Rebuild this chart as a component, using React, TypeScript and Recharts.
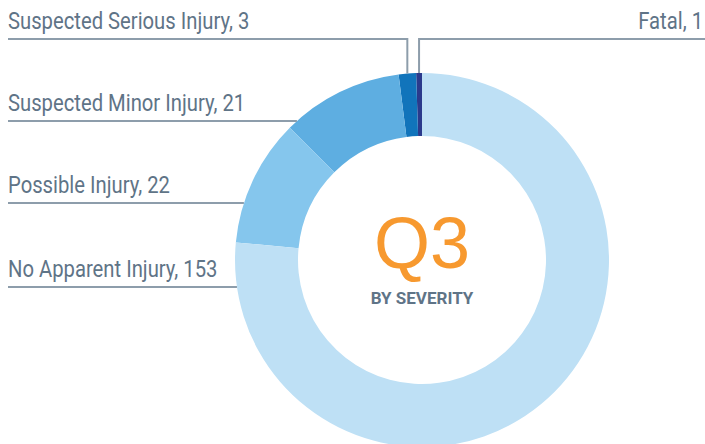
import { PieChart, Pie, Cell } from "recharts";

const categories = [
  "Fatal",
  "Suspected Serious Injury",
  "Suspected Minor Injury",
  "Possible Injury",
  "No Apparent Injury",
];
const counts = [1, 3, 21, 22, 153];
const colors = ["#2b3a8c", "#1174bb", "#5eaee1", "#85c6ed", "#bee0f5"];

// where each leader line runs (y of the horizontal rule)
const ruleY = [39, 39, 121, 203, 287];

const data = categories.map((name, i) => ({ name, value: counts[i] }));

const RAD = Math.PI / 180;
const lineColor = "#8d9dab";
const textColor = "#5f7487";
const font = "Roboto, sans-serif";

function Caption({ x, y, anchor, children }: any) {
  return (
    <text
      transform={`translate(${x},${y}) scale(0.88,1)`}
      textAnchor={anchor}
      fill={textColor}
      fontFamily={font}
      fontSize={23}
    >
      {children}
    </text>
  );
}

function renderLabel(props: any) {
  const { cx, cy, midAngle, outerRadius, index, name, value } = props;
  const y = ruleY[index];
  const text = `${name}, ${value}`;
  if (index <= 1) {
    // vertical drop from the rule onto the top of the slice
    const x = cx + outerRadius * Math.cos(-midAngle * RAD);
    const yTop = cy - Math.sqrt(outerRadius * outerRadius - (x - cx) * (x - cx));
    const right = index === 0;
    return (
      <g key={`l${index}`}>
        <polyline
          points={right ? `${x},${yTop} ${x},${y} 705,${y}` : `8,${y} ${x},${y} ${x},${yTop}`}
          fill="none"
          stroke={lineColor}
          strokeWidth={2}
        />
        <Caption x={right ? 703 : 8} y={y - 10} anchor={right ? "end" : "start"}>
          {text}
        </Caption>
      </g>
    );
  }
  const dy = y - cy;
  const xEdge = cx - Math.sqrt(outerRadius * outerRadius - dy * dy);
  return (
    <g key={`l${index}`}>
      <line x1={8} y1={y} x2={xEdge} y2={y} stroke={lineColor} strokeWidth={2} />
      <Caption x={8} y={y - 10} anchor="start">
        {text}
      </Caption>
    </g>
  );
}

export default function App() {
  return (
    <div style={{ position: "absolute", left: 0, top: 0, background: "#fff" }}>
      <PieChart width={705} height={444} margin={{ top: 0, right: 0, bottom: 0, left: 0 }}>
        <Pie
          data={data}
          dataKey="value"
          nameKey="name"
          cx={422}
          cy={260}
          innerRadius={124}
          outerRadius={187}
          startAngle={90}
          endAngle={450}
          stroke="none"
          label={renderLabel}
          labelLine={false}
          isAnimationActive={false}
        >
          {data.map((d, i) => (
            <Cell key={d.name} fill={colors[i]} />
          ))}
        </Pie>
        <text
          x={422}
          y={268}
          textAnchor="middle"
          fill="#f7992f"
          fontFamily="'Liberation Sans', Arial, sans-serif"
          fontSize={72}
        >
          Q3
        </text>
        <text
          x={422}
          y={304}
          textAnchor="middle"
          fill={textColor}
          fontFamily={font}
          fontWeight="bold"
          fontSize={17}
        >
          BY SEVERITY
        </text>
      </PieChart>
    </div>
  );
}
